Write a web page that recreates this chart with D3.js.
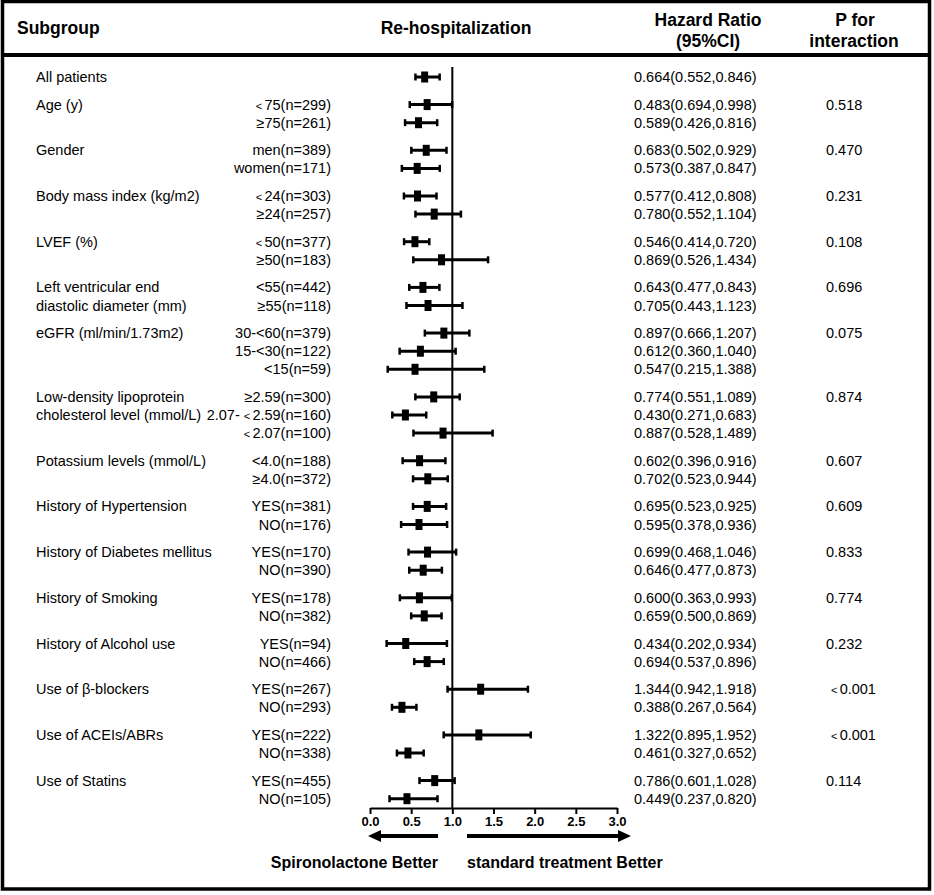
<!DOCTYPE html>
<html>
<head>
<meta charset="utf-8">
<script src="https://cdn.jsdelivr.net/npm/d3@7"></script>
<style>
  body { margin: 0; background: #fff; }
  svg text { font-family: Arial, "Liberation Sans", sans-serif; fill: #000; }
</style>
</head>
<body>
<svg id="forest"></svg>
<script>
// subgroup labels (one or two lines each)
const groupNames = [
  ['All patients'], ['Age (y)'], ['Gender'], ['Body mass index (kg/m2)'], ['LVEF (%)'],
  ['Left ventricular end', 'diastolic diameter (mm)'], ['eGFR (ml/min/1.73m2)'],
  ['Low-density lipoprotein', 'cholesterol level (mmol/L)'], ['Potassium levels (mmol/L)'],
  ['History of Hypertension'], ['History of Diabetes mellitus'], ['History of Smoking'],
  ['History of Alcohol use'], ['Use of β-blockers'], ['Use of ACEIs/ABRs'], ['Use of Statins']
];
const categories = [
  [''], ['< 75(n=299)', '≥75(n=261)'], ['men(n=389)', 'women(n=171)'],
  ['< 24(n=303)', '≥24(n=257)'], ['< 50(n=377)', '≥50(n=183)'],
  ['<55(n=442)', '≥55(n=118)'], ['30-<60(n=379)', '15-<30(n=122)', '<15(n=59)'],
  ['≥2.59(n=300)', '2.07- < 2.59(n=160)', '< 2.07(n=100)'], ['<4.0(n=188)', '≥4.0(n=372)'],
  ['YES(n=381)', 'NO(n=176)'], ['YES(n=170)', 'NO(n=390)'], ['YES(n=178)', 'NO(n=382)'],
  ['YES(n=94)', 'NO(n=466)'], ['YES(n=267)', 'NO(n=293)'], ['YES(n=222)', 'NO(n=338)'],
  ['YES(n=455)', 'NO(n=105)']
];
const pValues = ['', '0.518', '0.470', '0.231', '0.108', '0.696', '0.075', '0.874', '0.607',
  '0.609', '0.833', '0.774', '0.232', '< 0.001', '< 0.001', '0.114'];

// plotted estimates, one per row
const hr = [0.664, 0.694, 0.589, 0.683, 0.573, 0.577, 0.780, 0.546, 0.869, 0.643, 0.705,
  0.897, 0.612, 0.547, 0.774, 0.430, 0.887, 0.602, 0.702, 0.695, 0.595, 0.699, 0.646,
  0.600, 0.659, 0.434, 0.694, 1.344, 0.388, 1.322, 0.461, 0.786, 0.449];
const lo = [0.552, 0.483, 0.426, 0.502, 0.387, 0.412, 0.552, 0.414, 0.526, 0.477, 0.443,
  0.666, 0.360, 0.215, 0.551, 0.271, 0.528, 0.396, 0.523, 0.523, 0.378, 0.468, 0.477,
  0.363, 0.500, 0.202, 0.537, 0.942, 0.267, 0.895, 0.327, 0.601, 0.237];
const hi = [0.846, 0.998, 0.816, 0.929, 0.847, 0.808, 1.104, 0.720, 1.434, 0.843, 1.123,
  1.207, 1.040, 1.388, 1.089, 0.683, 1.489, 0.916, 0.944, 0.925, 0.936, 1.046, 0.873,
  0.993, 0.869, 0.934, 0.896, 1.918, 0.564, 1.952, 0.652, 1.028, 0.820];
const hrLabels = ['0.664(0.552,0.846)', '0.483(0.694,0.998)', '0.589(0.426,0.816)',
  '0.683(0.502,0.929)', '0.573(0.387,0.847)', '0.577(0.412,0.808)', '0.780(0.552,1.104)',
  '0.546(0.414,0.720)', '0.869(0.526,1.434)', '0.643(0.477,0.843)', '0.705(0.443,1.123)',
  '0.897(0.666,1.207)', '0.612(0.360,1.040)', '0.547(0.215,1.388)', '0.774(0.551,1.089)',
  '0.430(0.271,0.683)', '0.887(0.528,1.489)', '0.602(0.396,0.916)', '0.702(0.523,0.944)',
  '0.695(0.523,0.925)', '0.595(0.378,0.936)', '0.699(0.468,1.046)', '0.646(0.477,0.873)',
  '0.600(0.363,0.993)', '0.659(0.500,0.869)', '0.434(0.202,0.934)', '0.694(0.537,0.896)',
  '1.344(0.942,1.918)', '0.388(0.267,0.564)', '1.322(0.895,1.952)', '0.461(0.327,0.652)',
  '0.786(0.601,1.028)', '0.449(0.237,0.820)'];
const ticks = [0, 0.5, 1, 1.5, 2, 2.5, 3];

const W = 934, H = 895;
const svg = d3.select('#forest').attr('width', W).attr('height', H);

// row layout: 18.1px per row, half-row gap between groups
const rows = [];
categories.forEach((cats, g) => {
  cats.forEach((c, k) => rows.push({ g: g, k: k, cat: c }));
});
rows.forEach((r, i) => {
  r.i = i;
  r.y = 77 + i * 18.1 + r.g * 9.5;
  r.hr = hr[i]; r.lo = lo[i]; r.hi = hi[i]; r.label = hrLabels[i];
});

const x = d3.scaleLinear().domain([0, 3]).range([370, 617]);
const axisY = 808;

// the source draws "< " with a small glyph
function withSmallLt(sel, str) {
  str.split(/(< )/).forEach(part => {
    if (!part) return;
    if (part === '< ') sel.append('tspan').style('font-size', '11px').text('<\u2009');
    else sel.append('tspan').text(part);
  });
}

// frame and header rule
svg.append('rect')
  .attr('x', 2.5).attr('y', 1.5)
  .attr('width', 927).attr('height', 887.5)
  .attr('fill', 'none').attr('stroke', '#000').attr('stroke-width', 3.5);
svg.append('line')
  .attr('x1', 2).attr('x2', 930)
  .attr('y1', 55).attr('y2', 55)
  .attr('stroke', '#000').attr('stroke-width', 4);

// header
const head = svg.append('g').style('font-weight', 'bold').style('font-size', '17.5px');
head.append('text').attr('x', 17).attr('y', 34).text('Subgroup');
head.append('text').attr('x', 456).attr('y', 34).attr('text-anchor', 'middle').text('Re-hospitalization');
head.append('text').attr('x', 708).attr('y', 26).attr('text-anchor', 'middle').text('Hazard Ratio');
head.append('text').attr('x', 708).attr('y', 47).attr('text-anchor', 'middle').text('(95%CI)');
head.append('text').attr('x', 855).attr('y', 26).attr('text-anchor', 'middle').text('P for');
head.append('text').attr('x', 854).attr('y', 47).attr('text-anchor', 'middle').text('interaction');

// text columns
const body = svg.append('g').style('font-size', '14.5px');
rows.forEach(r => {
  if (r.k < groupNames[r.g].length) {
    body.append('text').attr('x', 36).attr('y', r.y).attr('dy', '0.35em').text(groupNames[r.g][r.k]);
  }
  const cat = body.append('text').attr('x', 331).attr('y', r.y).attr('dy', '0.35em')
    .attr('text-anchor', 'end');
  withSmallLt(cat, r.cat);
  body.append('text').attr('x', 634).attr('y', r.y).attr('dy', '0.35em').text(r.label);
  if (r.k === 0 && pValues[r.g]) {
    const p = body.append('text').attr('x', pValues[r.g].startsWith('<') ? 831 : 826)
      .attr('y', r.y).attr('dy', '0.35em');
    withSmallLt(p, pValues[r.g]);
  }
});

// reference line at HR = 1
svg.append('line')
  .attr('x1', x(1)).attr('x2', x(1))
  .attr('y1', 67).attr('y2', axisY)
  .attr('stroke', '#000').attr('stroke-width', 2);

// CIs, caps and boxes
const marks = svg.append('g');
marks.selectAll('.ci').data(rows).enter().append('line')
  .attr('x1', d => x(d.lo)).attr('x2', d => x(d.hi))
  .attr('y1', d => d.y).attr('y2', d => d.y)
  .attr('stroke', '#000').attr('stroke-width', 3);
marks.selectAll('.capL').data(rows).enter().append('line')
  .attr('x1', d => x(d.lo)).attr('x2', d => x(d.lo))
  .attr('y1', d => d.y - 3.5).attr('y2', d => d.y + 3.5)
  .attr('stroke', '#000').attr('stroke-width', 2.5);
marks.selectAll('.capR').data(rows).enter().append('line')
  .attr('x1', d => x(d.hi)).attr('x2', d => x(d.hi))
  .attr('y1', d => d.y - 3.5).attr('y2', d => d.y + 3.5)
  .attr('stroke', '#000').attr('stroke-width', 2.5);
marks.selectAll('.box').data(rows).enter().append('rect')
  .attr('x', d => x(d.hr) - 3.5).attr('y', d => d.y - 5.5)
  .attr('width', 7).attr('height', 11)
  .attr('fill', '#000');

// axis
const axis = svg.append('g')
  .attr('transform', `translate(0,${axisY})`)
  .call(d3.axisBottom(x).tickValues(ticks).tickFormat(d3.format('.1f')).tickSize(6).tickSizeOuter(0));
axis.select('.domain').attr('stroke-width', 2);
axis.selectAll('.tick line').attr('stroke-width', 2);
axis.selectAll('.tick text')
  .style('font-family', 'Arial, "Liberation Sans", sans-serif')
  .style('font-size', '13px').style('font-weight', 'bold').attr('y', 9);

// direction arrows
const arrowY = 836;
svg.append('line').attr('x1', 378).attr('x2', 438).attr('y1', arrowY).attr('y2', arrowY)
  .attr('stroke', '#000').attr('stroke-width', 4);
svg.append('path').attr('d', `M368,${arrowY} L381,${arrowY - 6} L381,${arrowY + 6} Z`).attr('fill', '#000');
svg.append('line').attr('x1', 467).attr('x2', 620).attr('y1', arrowY).attr('y2', arrowY)
  .attr('stroke', '#000').attr('stroke-width', 4);
svg.append('path').attr('d', `M631,${arrowY} L618,${arrowY - 6} L618,${arrowY + 6} Z`).attr('fill', '#000');

const foot = svg.append('g').style('font-weight', 'bold').style('font-size', '16px');
foot.append('text').attr('x', 438).attr('y', 868).attr('text-anchor', 'end').text('Spironolactone Better');
foot.append('text').attr('x', 467).attr('y', 868).text('standard treatment Better');
</script>
</body>
</html>
